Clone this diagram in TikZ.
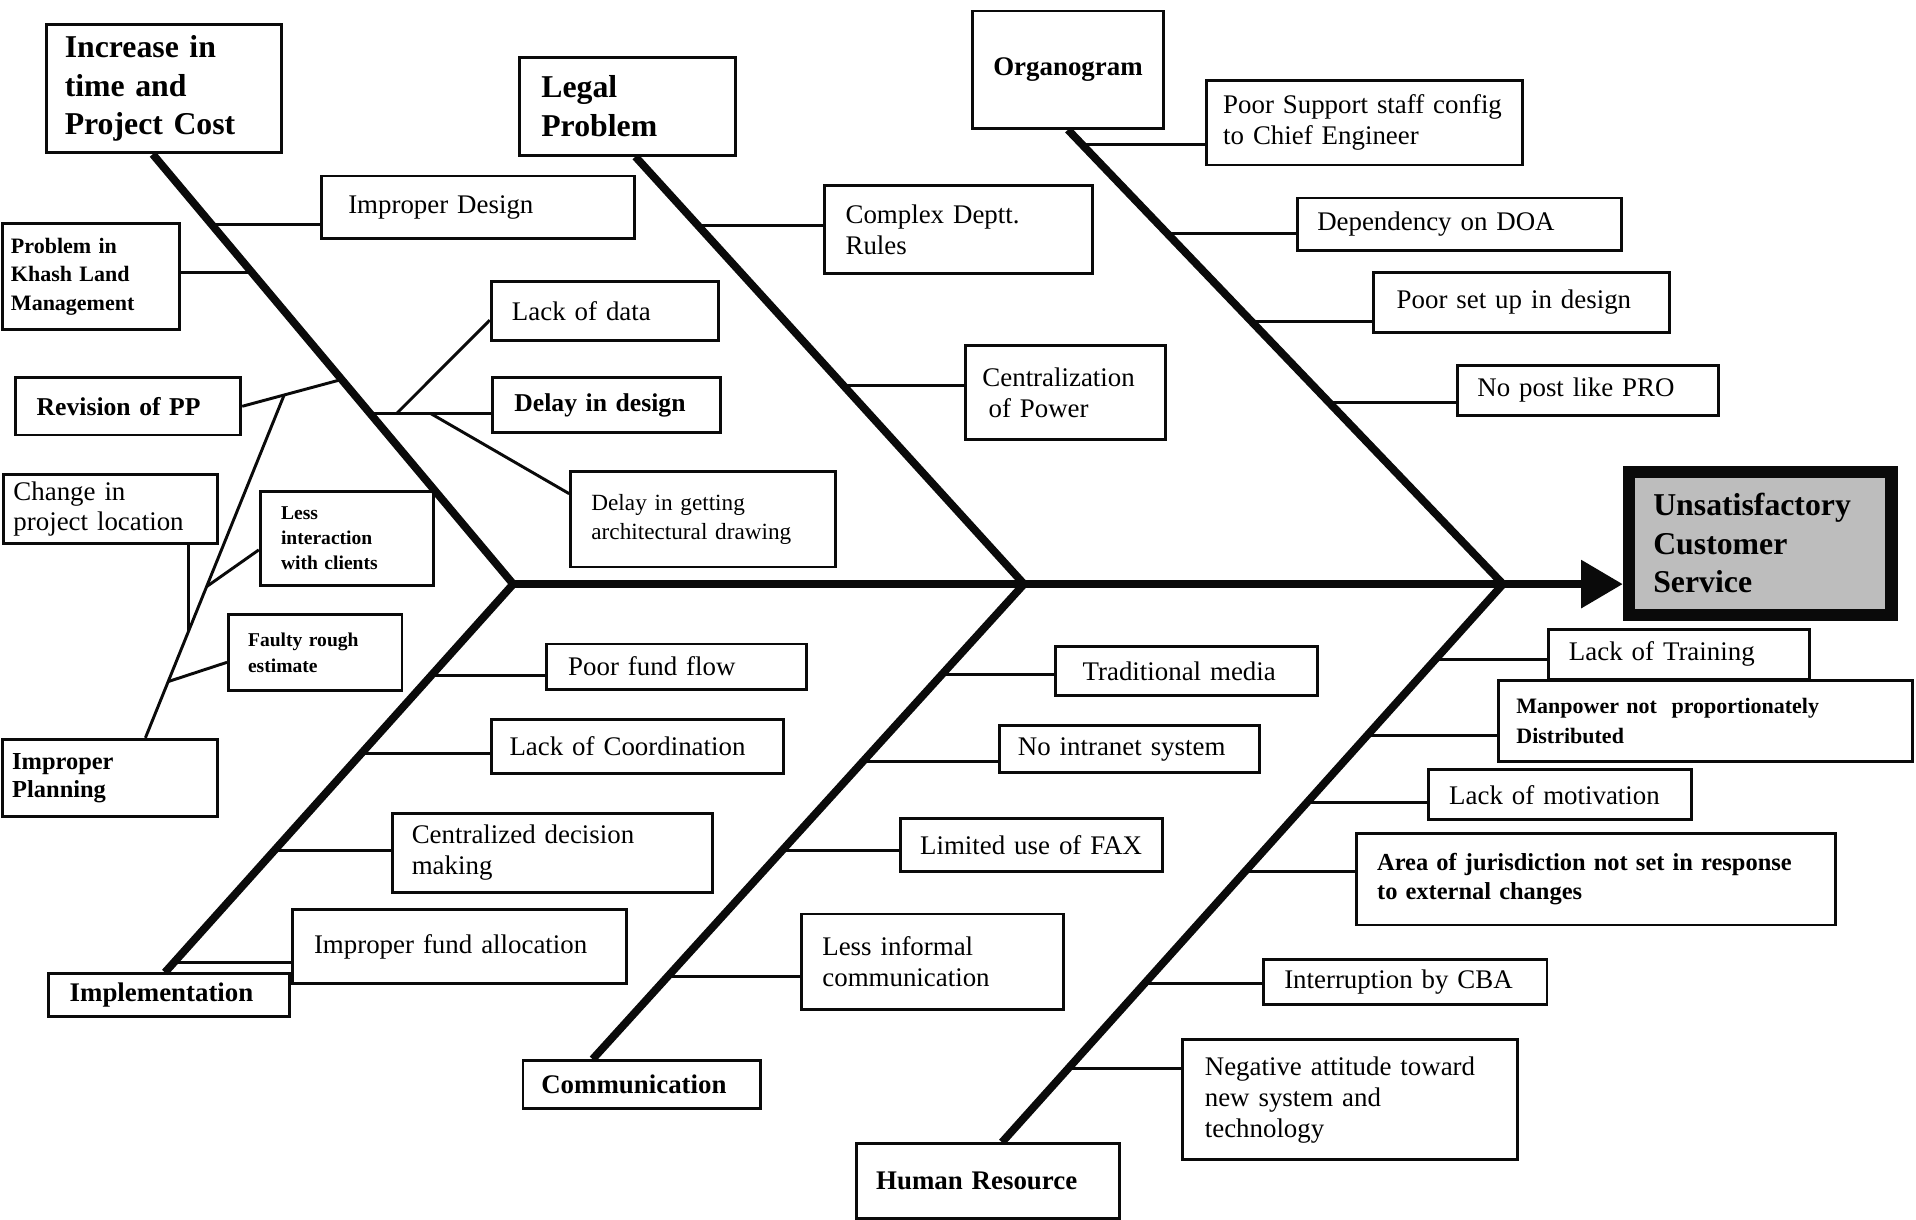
\documentclass[tikz,border=0pt]{standalone}
\usepackage{fontspec}
\setmainfont{Liberation Serif}
\usetikzlibrary{positioning, arrows.meta, calc}

\definecolor{cInk}  {HTML}{0A0A0A}
\definecolor{cShade}{HTML}{BDBDBD}

\newcommand{\fsBody}{\fontsize{11}{12.75}\selectfont}
\newcommand{\fsHead}{\bfseries\fontsize{13}{15.75}\selectfont}
\newcommand{\fsCat}{\bfseries\fontsize{11}{13}\selectfont}
\newcommand{\fsMidB}{\bfseries\fontsize{10.5}{12.5}\selectfont}

\begin{document}
\begin{tikzpicture}[x=0.5pt, y={(0pt,-0.5pt)},
    box/.style={draw=cInk, fill=white, line width=1.2pt, inner ysep=0pt, align=left, font=\fsBody},
    cat/.style={box, font=\fsHead},
    bone/.style={draw=cInk, line width=3.2pt, line join=miter},
    branch/.style={draw=cInk, line width=1.2pt},
  ]
  \useasboundingbox (0,0) rectangle (1568,998);

  % category heads
  \node[cat, text width=81pt, inner xsep=7.5pt, minimum height=52.5pt] (incr) at (134,72.5) {Increase in\\ time and\\ Project Cost};
  \node[cat, text width=70.5pt, inner xsep=9pt, minimum height=40pt] (legal) at (513.5,87) {Legal\\ Problem};
  \node[box, font=\fsCat, align=center, text width=70pt, inner xsep=4pt, minimum height=48pt] (organ) at (874,57) {Organogram};
  \node[box, font=\fsCat, text width=81.5pt, inner xsep=8.5pt, minimum height=17.5pt] (impl) at (138.5,814.5) {Implementation};
  \node[box, font=\fsCat, text width=82pt, inner xsep=7.5pt, minimum height=19.5pt] (comm) at (525,887.5) {Communication};
  \node[box, font=\fsCat, text width=91.5pt, inner xsep=8pt, minimum height=30.5pt] (hr) at (808.5,966.5) {Human Resource};

  % effect
  \node[box, fill=cShade, line width=5pt, font=\fsHead, text width=87.5pt, inner xsep=10pt, minimum height=58.5pt] (effect) at (1440.5,444.5) {Unsatisfactory\\ Customer\\ Service};

  % increase in time and cost
  \node[box, font=\bfseries\fontsize{9}{11.5}\selectfont, text width=65.5pt, inner xsep=3.5pt, minimum height=43.5pt] (khash) at (74.5,226.5) {Problem in\\ Khash Land\\ Management};
  \node[box, font=\fsMidB, text width=75pt, inner xsep=8.5pt, minimum height=23.5pt] (revision) at (105,332.5) {Revision of PP};
  \node[box, font=\fontsize{11}{12}\selectfont, text width=79.5pt, inner xsep=4pt, minimum height=28.5pt] (change) at (90.5,416.5) {Change in\\ project location};
  \node[box, font=\bfseries\fontsize{8}{10.25}\selectfont, text width=54pt, inner xsep=8.5pt, minimum height=38.5pt] (lessinter) at (284,440.5) {Less\\ interaction\\ with clients};
  \node[box, font=\bfseries\fontsize{8}{10.5}\selectfont, text width=55pt, inner xsep=8pt, minimum height=31pt] (faulty) at (258,534) {Faulty rough\\ estimate};
  \node[box, font=\bfseries\fontsize{10}{11.5}\selectfont, text width=80pt, inner xsep=4pt, minimum height=31.5pt] (planning) at (90,636.5) {Improper\\ Planning};
  \node[box, text width=106pt, inner xsep=11pt, minimum height=25.5pt] (impdesign) at (391,169.5) {Improper Design};
  \node[box, text width=76pt, inner xsep=8.5pt, minimum height=24.5pt] (lackdata) at (495,254.5) {Lack of data};
  \node[box, font=\fsMidB, text width=75.5pt, inner xsep=9pt, minimum height=22.5pt] (delaydesign) at (496.5,331.5) {Delay in design};
  \node[box, font=\fontsize{9.5}{12}\selectfont, text width=91.5pt, inner xsep=8.5pt, minimum height=39pt] (delaydraw) at (575.5,425) {Delay in getting\\ architectural drawing};

  % implementation
  \node[box, text width=88.5pt, inner xsep=9pt, minimum height=18.5pt] (poorfund) at (553.5,545.5) {Poor fund flow};
  \node[box, text width=104.5pt, inner xsep=7.5pt, minimum height=22pt] (lackcoord) at (521.5,611) {Lack of Coordination};
  \node[box, text width=115pt, inner xsep=8pt, minimum height=32pt] (centdec) at (452,698) {Centralized decision\\ making};
  \node[box, text width=119pt, inner xsep=9pt, minimum height=30.5pt] (impfund) at (376,774.5) {Improper fund allocation};

  % legal problem
  \node[box, text width=92.5pt, inner xsep=8.5pt, minimum height=36pt] (complex) at (784.5,188) {Complex Deptt.\\ Rules};
  \node[box, text width=68pt, inner xsep=7pt, minimum height=38.5pt] (centpower) at (872,321.5) {Centralization\\ \hspace*{2.5pt}of Power};

  % communication
  \node[box, text width=85pt, inner xsep=11pt, minimum height=20pt] (tradmedia) at (971,549) {Traditional media};
  \node[box, text width=91.5pt, inner xsep=7.5pt, minimum height=19pt] (nointranet) at (924.5,613) {No intranet system};
  \node[box, text width=91pt, inner xsep=8pt, minimum height=21.5pt] (fax) at (844,691.5) {Limited use of FAX};
  \node[box, text width=90pt, inner xsep=8.5pt, minimum height=39pt] (lessinformal) at (763,787) {Less informal\\ communication};

  % organogram
  \node[box, text width=115.5pt, inner xsep=7pt, minimum height=34.5pt] (poorsupport) at (1116.5,100.5) {Poor Support staff config\\ to Chief Engineer};
  \node[box, text width=116.5pt, inner xsep=8pt, minimum height=21.5pt] (dependency) at (1194.5,183.5) {Dependency on DOA};
  \node[box, text width=102pt, inner xsep=9.5pt, minimum height=24.5pt] (poorsetup) at (1245,247.5) {Poor set up in design};
  \node[box, text width=90.5pt, inner xsep=8pt, minimum height=20.5pt] (nopost) at (1299.5,319.5) {No post like PRO};

  % human resource
  \node[box, text width=90pt, inner xsep=8.5pt, minimum height=20.5pt] (training) at (1374,535.5) {Lack of Training};
  \node[box, font=\bfseries\fontsize{9}{12}\selectfont, text width=154.5pt, inner xsep=7.5pt, minimum height=33pt] (manpower) at (1395.5,590) {Manpower not\ \ proportionately\\ Distributed};
  \node[box, text width=90.5pt, inner xsep=8.5pt, minimum height=20.5pt] (motivation) at (1276.5,650.5) {Lack of motivation};
  \node[box, font=\bfseries\fontsize{10}{12}\selectfont, text width=179pt, inner xsep=8.5pt, minimum height=37.5pt] (jurisdiction) at (1306,719.5) {Area of jurisdiction not set in response\\ to external changes};
  \node[box, text width=99pt, inner xsep=8.5pt, minimum height=18.5pt] (cba) at (1150,803.5) {Interruption by CBA};
  \node[box, text width=119pt, inner xsep=9pt, minimum height=49pt] (negative) at (1105,900) {Negative attitude toward\\ new system and\\ technology};

  % bones and spine
  \coordinate (j1) at (420,478);
  \coordinate (j2) at (838,478);
  \coordinate (j3) at (1230,478);
  \coordinate (a0) at ([xshift=-4.5pt]incr.south);
  \coordinate (b0) at ([xshift=3.25pt]legal.south);
  \coordinate (c0) at (organ.south);
  \coordinate (d0) at ([xshift=-1.75pt]impl.north);
  \coordinate (e0) at ([xshift=-20pt]comm.north);
  \coordinate (f0) at ([xshift=5.75pt]hr.north);
  \draw[bone] (a0) -- (j1) -- (d0);
  \draw[bone] (b0) -- (j2) -- (e0);
  \draw[bone] (c0) -- (j3) -- (f0);
  \draw[bone, -{Triangle[length=17pt, width=19pt]}] (j1) -- (effect.west |- j1);

  % branches, upper bones
  \foreach \n/\t in {impdesign/0.164, delaydesign/0.603}{
    \coordinate (a-\n) at ($(a0)!\t!(j1)$);
    \draw[branch] (a-\n) -- (\n.west |- a-\n);
  }
  \foreach \n/\t in {complex/0.162, centpower/0.536}{
    \coordinate (b-\n) at ($(b0)!\t!(j2)$);
    \draw[branch] (b-\n) -- (\n.west |- b-\n);
  }
  \foreach \n/\t in {poorsupport/0.032, dependency/0.228, poorsetup/0.421, nopost/0.601}{
    \coordinate (c-\n) at ($(c0)!\t!(j3)$);
    \draw[branch] (c-\n) -- (\n.west |- c-\n);
  }
  % branches, lower bones
  \foreach \n/\t in {poorfund/0.235, lackcoord/0.436, centdec/0.687, impfund/0.975}{
    \coordinate (d-\n) at ($(j1)!\t!(d0)$);
    \draw[branch] (d-\n) -- (\n.west |- d-\n);
  }
  \foreach \n/\t in {tradmedia/0.19, nointranet/0.374, fax/0.5615, lessinformal/0.8256}{
    \coordinate (e-\n) at ($(j2)!\t!(e0)$);
    \draw[branch] (e-\n) -- (\n.west |- e-\n);
  }
  \foreach \n/\t in {training/0.135, manpower/0.271, motivation/0.391, jurisdiction/0.515, cba/0.716, negative/0.867}{
    \coordinate (f-\n) at ($(j3)!\t!(f0)$);
    \draw[branch] (f-\n) -- (\n.west |- f-\n);
  }

  % left side of first bone
  \coordinate (a-khash) at ($(a0)!0.275!(j1)$);
  \draw[branch] (khash.east |- a-khash) -- (a-khash);
  \coordinate (a-rev) at ($(a0)!0.524!(j1)$);
  \draw[branch] (a-rev) -- (revision.east);
  % improper planning sub-bone
  \coordinate (p0) at ([xshift=14.5pt]planning.north);
  \coordinate (p1) at ($(a-rev)!0.578!(revision.east)$);
  \draw[branch] (p0) -- (p1);
  \coordinate (p-chg) at ($(p0)!0.313!(p1)$);
  \draw[branch] (p-chg) -- (change.south -| p-chg);
  \coordinate (p-less) at ($(p0)!0.441!(p1)$);
  \draw[branch] (p-less) -- ([yshift=-4.75pt]lessinter.west);
  \coordinate (p-faulty) at ($(p0)!0.164!(p1)$);
  \draw[branch] (p-faulty) -- ([yshift=-4pt]faulty.west);
  % design delays
  \coordinate (a-data) at ($(a-delaydesign)!0.22!(delaydesign.west |- a-delaydesign)$);
  \draw[branch] (a-data) -- ([yshift=-3.75pt]lackdata.west);
  \coordinate (a-draw) at ($(a-delaydesign)!0.5!(delaydesign.west |- a-delaydesign)$);
  \draw[branch] (a-draw) -- ([yshift=10.5pt]delaydraw.west);
\end{tikzpicture}
\end{document}
